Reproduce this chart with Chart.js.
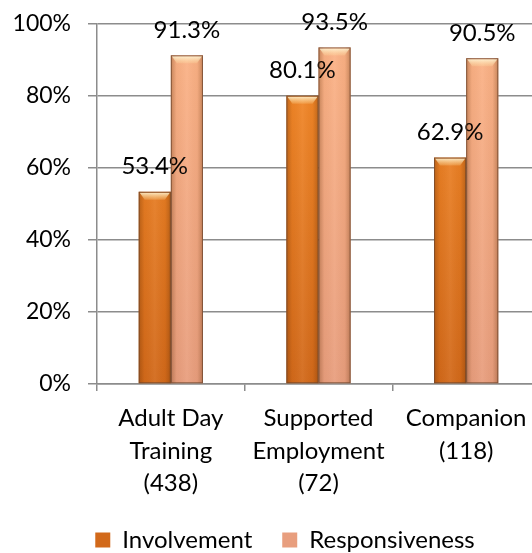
<!DOCTYPE html>
<html>
<head>
<meta charset="utf-8">
<script src="https://cdn.jsdelivr.net/npm/chart.js@4.4.1/dist/chart.umd.min.js"></script>
<style>
  html, body { margin: 0; padding: 0; background: #fff; overflow: hidden; }
  #wrap { width: 532px; height: 553px; overflow: hidden; }
  #box { width: 570px; height: 553px; }
</style>
</head>
<body>
<div id="wrap"><div id="box"><canvas id="grafico" width="570" height="553"></canvas></div></div>
<script>
const categorias = [
  ['Adult Day', 'Training', '(438)'],
  ['Supported', 'Employment', '(72)'],
  ['Companion', '(118)']
];
const involvement = [53.4, 80.1, 62.9];
const responsiveness = [91.3, 93.5, 90.5];
const ticksY = [0, 20, 40, 60, 80, 100];

const fuente = "Lato, 'Open Sans', sans-serif";

// vertical gradient per series, light on top and darker at the base
function relleno(top, bottom) {
  return (ctx) => {
    const area = ctx.chart.chartArea;
    if (!area) return top;
    const g = ctx.chart.ctx.createLinearGradient(0, area.top, 0, area.bottom);
    g.addColorStop(0, top);
    g.addColorStop(1, bottom);
    return g;
  };
}

// shading for the rounded look of the bars plus the value above each one
const sombreado = {
  id: 'sombreado',
  afterDatasetsDraw(chart) {
    const c = chart.ctx;
    chart.data.datasets.forEach((ds, i) => {
      const meta = chart.getDatasetMeta(i);
      meta.data.forEach((bar, j) => {
        const l = bar.x - bar.width / 2, r = bar.x + bar.width / 2;
        const t = bar.y, b = bar.base;
        c.save();
        // darker side edges
        const h = c.createLinearGradient(l, 0, r, 0);
        h.addColorStop(0, 'rgba(90,40,0,0.32)');
        h.addColorStop(0.18, 'rgba(90,40,0,0.04)');
        h.addColorStop(0.5, 'rgba(255,255,255,0.06)');
        h.addColorStop(0.82, 'rgba(90,40,0,0.04)');
        h.addColorStop(1, 'rgba(90,40,0,0.32)');
        c.fillStyle = h;
        c.fillRect(l, t, r - l, b - t);
        // bevel at the top
        c.beginPath();
        c.moveTo(l + 1, t + 1);
        c.lineTo(r - 1, t + 1);
        c.lineTo(r - 6, t + 8);
        c.lineTo(l + 6, t + 8);
        c.closePath();
        const v = c.createLinearGradient(0, t, 0, t + 8);
        v.addColorStop(0, 'rgba(255,255,230,0.9)');
        v.addColorStop(1, 'rgba(255,230,170,0.2)');
        c.fillStyle = v;
        c.fill();
        // outline
        c.strokeStyle = 'rgba(110,70,45,0.75)';
        c.lineWidth = 1;
        c.strokeRect(l + 0.5, t + 0.5, r - l - 1, b - t - 1);
        c.restore();

        // value label
        c.save();
        c.font = '24px ' + fuente;
        c.fillStyle = '#000';
        c.textAlign = 'center';
        c.textBaseline = 'middle';
        c.fillText(ds.data[j].toFixed(1) + '%', bar.x, t - 25);
        c.restore();
      });
    });
  }
};

new Chart(document.querySelector('#grafico'), {
  type: 'bar',
  data: {
    labels: categorias,
    datasets: [
      {
        label: 'Involvement',
        data: involvement,
        backgroundColor: relleno('#F78C2A', '#D2691A'),
        borderWidth: 0
      },
      {
        label: 'Responsiveness',
        data: responsiveness,
        backgroundColor: relleno('#FCB386', '#E89E7E'),
        borderWidth: 0
      }
    ]
  },
  options: {
    responsive: false,
    animation: false,
    layout: { padding: { top: 24, right: 0, left: 0, bottom: -9 } },
    datasets: { bar: { barPercentage: 1, categoryPercentage: 0.435 } },
    plugins: {
      tooltip: { enabled: false },
      legend: {
        position: 'bottom',
        labels: {
          color: '#000',
          font: { family: fuente, size: 24 },
          boxWidth: 15,
          boxHeight: 15,
          padding: 30
        }
      }
    },
    scales: {
      x: {
        grid: {
          display: true,
          drawOnChartArea: false,
          color: '#8c8c8c',
          lineWidth: 1.5,
          tickLength: 7
        },
        border: { color: '#8c8c8c', width: 1.5 },
        ticks: {
          color: '#000',
          font: { family: fuente, size: 24, lineHeight: 1.36 },
          padding: 11,
          maxRotation: 0
        },
        afterFit(scale) {
          scale.height = 114;
          scale.paddingLeft = 0;
          scale.paddingRight = 0;
        }
      },
      y: {
        min: 0,
        max: 100,
        afterBuildTicks(scale) { scale.ticks = ticksY.map(v => ({ value: v })); },
        grid: {
          color: '#8c8c8c',
          lineWidth: 1.5,
          tickLength: 9
        },
        border: { color: '#8c8c8c', width: 1.5 },
        ticks: {
          color: '#000',
          font: { family: fuente, size: 23 },
          padding: 17,
          callback: (v) => v + '%'
        },
        afterFit(scale) {
          scale.width = 97;
          scale.paddingTop = 0;
          scale.paddingBottom = 0;
        }
      },
      // empty strip on the right so the plot ends past the visible edge
      margen: {
        position: 'right',
        grid: { display: false },
        border: { display: false },
        ticks: { display: false },
        afterFit(scale) {
          scale.width = 30;
          scale.paddingTop = 0;
          scale.paddingBottom = 0;
        }
      }
    }
  },
  plugins: [sombreado]
});
</script>
</body>
</html>
